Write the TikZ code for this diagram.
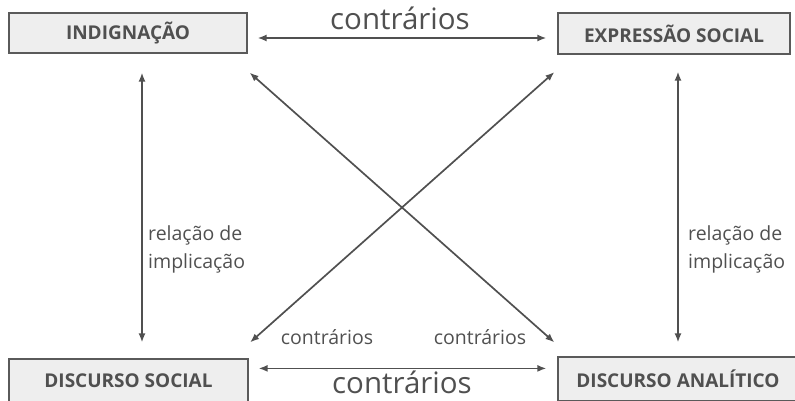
\documentclass[tikz,border=0pt]{standalone}
\usepackage{fontspec}
\setmainfont{Open Sans}
\usepackage{xcolor}
\usetikzlibrary{arrows.meta,positioning,calc}

\definecolor{boxfill}{HTML}{EEEEEE}
\definecolor{boxline}{HTML}{5A5A5A}
\definecolor{inkgray}{HTML}{505050}

\begin{document}
\begin{tikzpicture}[
    x=1pt, y=-1pt,
    concept/.style={rectangle, draw=boxline, fill=boxfill, line width=1.2pt, text=inkgray, font=\fontsize{19}{22}\selectfont\bfseries, inner sep=0pt},
    arrow/.style={{Latex[length=9pt,width=7pt]}-{Latex[length=9pt,width=7pt]}, draw=inkgray, line width=1.7pt},
    big/.style={text=inkgray, font=\fontsize{29.5}{32}\selectfont, inner sep=0pt},
    small/.style={text=inkgray, font=\fontsize{19.5}{28}\selectfont, inner sep=0pt, align=left}
]
    \useasboundingbox (0,0) rectangle (795,401);

    % the four terms
    \node[concept, minimum width=238pt, minimum height=40pt] (ind) at (128,33) {INDIGNAÇÃO};
    \node[concept, minimum width=232pt, minimum height=41pt] (expr) at (674,33.5) {EXPRESSÃO SOCIAL};
    \node[concept, minimum width=239pt, minimum height=44pt] (dsoc) at (128.5,381) {DISCURSO SOCIAL};
    \node[concept, minimum width=240pt, minimum height=44pt] (dana) at (678,379) {DISCURSO ANALÍTICO};

    % contraries (horizontal)
    \draw[arrow, shorten <=10pt, shorten >=11pt] ([yshift=-5pt]ind.east) -- ([yshift=-4.5pt]expr.west);
    \draw[arrow, shorten <=10pt, shorten >=11pt] ([yshift=-10pt]dsoc.north east) -- ([yshift=-12pt]dana.north west);

    % implication (vertical)
    \draw[arrow, shorten <=19pt, shorten >=16pt] ([xshift=14pt]ind.south) -- ([xshift=13.5pt]dsoc.north);
    \draw[arrow, shorten <=17pt, shorten >=14pt] ([xshift=4pt]expr.south) -- (dana.north);

    % diagonals
    \draw[arrow] ([shift={(2,19)}]ind.south east) -- ([shift={(-3,-14)}]dana.north west);
    \draw[arrow] ([shift={(-3,17.5)}]expr.south west) -- ([shift={(1.5,-16)}]dsoc.north east);

    % labels
    \node[big] (ctop) at (400,18) {contrários};
    \node[big] (cbot) at (402,382.5) {contrários};
    \node[small] (cleft) at (327,337) {contrários};
    \node[small] (cright) at (480,337) {contrários};
    \node[small, anchor=west] (implleft) at (148,249) {relação de\\implicação};
    \node[small, anchor=west] (implright) at (688,249) {relação de\\implicação};
\end{tikzpicture}
\end{document}
